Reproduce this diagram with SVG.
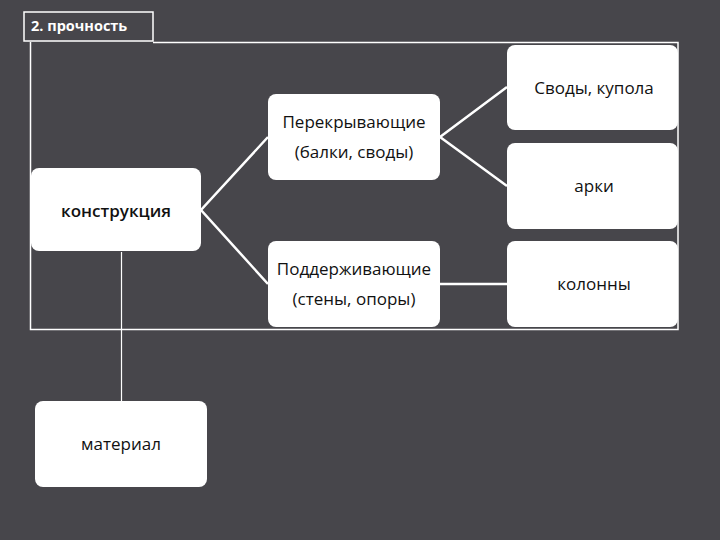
<svg xmlns="http://www.w3.org/2000/svg" width="720" height="540" viewBox="0 0 720 540">
<style>
.bg{fill:#47464b}
.frame{fill:none;stroke:#ffffff;stroke-width:1.5}
.box{fill:#ffffff;stroke:none}
.t{font-family:"Open Sans","Noto Sans","DejaVu Sans",sans-serif;font-size:17px;fill:#111111;text-anchor:middle}
.b{font-weight:600;font-size:17px}
.ttl{font-family:"Open Sans","Noto Sans","DejaVu Sans",sans-serif;font-size:14.5px;font-weight:700;fill:#ffffff}
.c{stroke:#ffffff;stroke-width:2.5;fill:none}
.thin{stroke:#ffffff;stroke-width:1.2;fill:none}
</style>
<rect class="bg" x="0" y="0" width="720" height="540"/>
<g id="title">
<rect class="frame" x="24" y="12" width="129" height="29"/>
<text class="ttl" x="31" y="31">2. прочность</text>
</g>
<g id="frame">
<polyline class="frame" points="153,42.5 678,42.5 678,329.5 30.5,329.5 30.5,42"/>
</g>
<g id="connectors">
<polyline class="c" points="268,137 201,210 268,284"/>
<polyline class="c" points="507,87 440,137 507,186"/>
<line class="c" x1="440" y1="284" x2="507" y2="284"/>
<line class="thin" x1="121.5" y1="252" x2="121.5" y2="401"/>
</g>
<g id="konstrukciya">
<rect class="box" x="31" y="168" width="170" height="83" rx="8"/>
<text class="t b" x="116" y="217">конструкция</text>
</g>
<g id="perekryvayushchie">
<rect class="box" x="268" y="94" width="172" height="86" rx="8"/>
<text class="t" x="354" y="128">Перекрывающие</text>
<text class="t" x="354" y="158">(балки, своды)</text>
</g>
<g id="podderzhivayushchie">
<rect class="box" x="268" y="241" width="172" height="86" rx="8"/>
<text class="t" x="354" y="275">Поддерживающие</text>
<text class="t" x="354" y="305">(стены, опоры)</text>
</g>
<g id="svody">
<rect class="box" x="507" y="45" width="171" height="85" rx="8"/>
<text class="t" x="594" y="94">Своды, купола</text>
</g>
<g id="arki">
<rect class="box" x="507" y="143" width="171" height="86" rx="8"/>
<text class="t" x="594" y="192">арки</text>
</g>
<g id="kolonny">
<rect class="box" x="507" y="241" width="171" height="86" rx="8"/>
<text class="t" x="594" y="290">колонны</text>
</g>
<g id="material">
<rect class="box" x="35" y="401" width="172" height="86" rx="8"/>
<text class="t" x="121" y="450">материал</text>
</g>
</svg>
